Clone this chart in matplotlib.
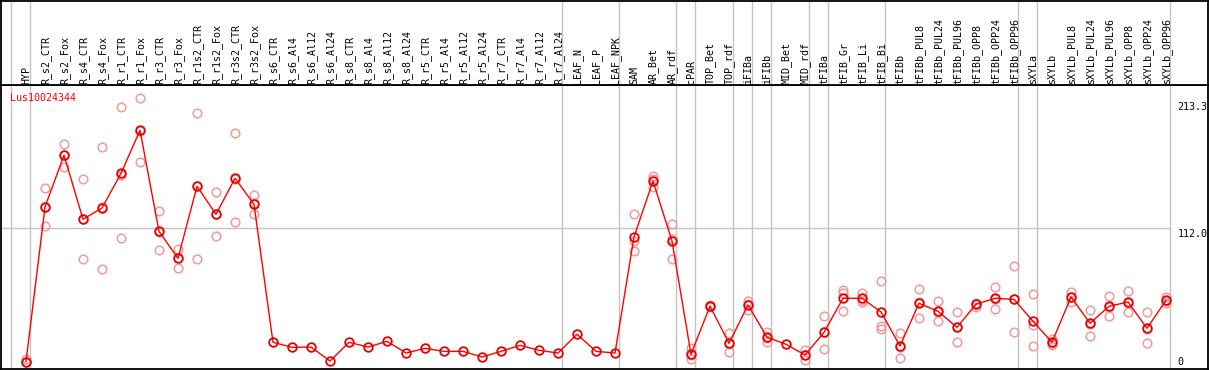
import matplotlib
matplotlib.use("Agg")
import matplotlib.pyplot as plt
from matplotlib.transforms import blended_transform_factory
import numpy as np

# ---------------- data ----------------
gene = "Lus10024344"

categories = [
    "HYP", "R_s2_CTR", "R_s2_Fox", "R_s4_CTR", "R_s4_Fox", "R_r1_CTR", "R_r1_Fox",
    "R_r3_CTR", "R_r3_Fox", "R_r1s2_CTR", "R_r1s2_Fox", "R_r3s2_CTR", "R_r3s2_Fox",
    "R_s6_CTR", "R_s6_Al4", "R_s6_Al12", "R_s6_Al24", "R_s8_CTR", "R_s8_Al4",
    "R_s8_Al12", "R_s8_Al24", "R_r5_CTR", "R_r5_Al4", "R_r5_Al12", "R_r5_Al24",
    "R_r7_CTR", "R_r7_Al4", "R_r7_Al12", "R_r7_Al24", "LEAF_N", "LEAF_P", "LEAF_NPK",
    "SAM", "AR_Bet", "AR_rdf", "cPAR", "TOP_Bet", "TOP_rdf", "iFIBa", "iFIBb",
    "MID_Bet", "MID_rdf", "tFIBa", "tFIB_Gr", "tFIB_Li", "tFIB_Bi", "tFIBb",
    "tFIBb_PUL8", "tFIBb_PUL24", "tFIBb_PUL96", "tFIBb_OPP8", "tFIBb_OPP24",
    "tFIBb_OPP96", "sXYLa", "sXYLb", "sXYLb_PUL8", "sXYLb_PUL24", "sXYLb_PUL96",
    "sXYLb_OPP8", "sXYLb_OPP24", "sXYLb_OPP96",
]

means = [
    0.3, 129.7, 173.0, 119.4, 128.8, 157.8, 193.8, 109.3, 86.7, 147.0, 123.5, 153.7, 131.9,
    16.5, 12.3, 12.5, 0.8, 16.5, 12.5, 17.3, 7.5, 11.4, 8.9, 8.9, 4.2,
    8.9, 13.9, 9.8, 7.5, 23.2, 8.9, 7.5,
    104.6, 151.4, 101.2, 6.4, 46.8, 15.6, 47.7, 20.7,
    14.8, 5.9, 24.8, 53.3, 53.3, 41.8, 13.4,
    49.1, 42.4, 29.0, 48.3, 53.3, 52.4,
    34.0, 16.5, 54.4, 32.4, 46.6, 50.2, 28.2, 51.6,
]

replicates = [
    [2.2, 0.0, 0.0],
    [145.5, 113.8, 130.0],
    [182.4, 162.9, 173.5],
    [153.0, 85.9, 119.3],
    [179.6, 77.5, 129.3],
    [213.0, 103.7, 156.7],
    [220.8, 167.0, 193.6],
    [126.0, 93.4, 108.5],
    [94.8, 78.4, 86.9],
    [208.0, 85.9, 147.1],
    [142.0, 105.1, 123.4],
    [191.3, 116.9, 152.9],
    [139.4, 123.5, 132.8],
    [], [], [], [], [], [], [], [], [], [], [], [], [], [], [], [],
    [], [], [],
    [123.5, 92.6, 101.5],
    [155.3, 146.1, 152.8],
    [115.2, 85.9, 102.5],
    [11.4, 2.2, 5.6],
    [47.5, 46.0, 46.9],
    [24.0, 8.1, 14.7],
    [51.3, 43.5, 48.3],
    [25.4, 17.0, 19.7],
    [],
    [9.8, 1.7, 6.2],
    [38.2, 10.9, 25.3],
    [60.2, 57.5, 42.7],
    [58.0, 50.4, 51.5],
    [67.8, 30.1, 27.6],
    [24.5, 3.3, 12.4],
    [60.8, 36.6, 50.0],
    [51.0, 34.0, 42.2],
    [41.6, 16.5, 29.0],
    [48.9, 46.3, 49.6],
    [62.7, 44.1, 53.0],
    [80.0, 24.8, 52.4],
    [56.9, 30.9, 13.1],
    [19.0, 14.2, 16.3],
    [58.6, 50.4, 54.2],
    [43.5, 21.5, 32.2],
    [55.2, 38.2, 46.4],
    [59.4, 41.6, 49.6],
    [41.6, 15.6, 27.4],
    [54.4, 49.1, 51.3],
]

# number of categories in each tissue group (separators drawn after each group)
group_sizes = [1, 28, 3, 3, 1, 2, 1, 1, 2, 1, 3, 7, 1, 7]

ytick_values = [213.3, 112.0, 0]
ytick_labels = ["213.3", "112.0", "0"]

# ---------------- layout ----------------
W, H = 1209, 370
fig = plt.figure(figsize=(W / 100, H / 100), dpi=100)
fig.patch.set_facecolor("white")

X0, DX = 26.0, 19.0          # pixel position of first category and spacing
Y0, YMAXPX, YMAX = 362.0, 107.0, 213.3


def px2x(px):
    return (px - X0) / DX


def py2v(py):
    return (Y0 - py) * YMAX / (Y0 - YMAXPX)


mono = "DejaVu Sans Mono"
fs = 7.2
grid_c = "#c4c4c4"

# plot area: px y 85..369
ax = fig.add_axes([1 / W, 1 / H, 1207 / W, 284 / H])
ax.set_xlim(px2x(1), px2x(1208))
ax.set_ylim(py2v(369), py2v(85))
ax.set_xticks([])
ax.set_yticks([])
for s in ax.spines.values():
    s.set_color("black")
    s.set_linewidth(1.3)

# header area: px y 0..85
hax = fig.add_axes([1 / W, 285 / H, 1207 / W, 84.5 / H])
hax.set_xlim(px2x(1), px2x(1208))
hax.set_ylim(85, 0)
hax.set_xticks([])
hax.set_yticks([])
for s in hax.spines.values():
    s.set_color("black")
    s.set_linewidth(1.3)

# group separators
ends = np.cumsum(group_sizes) - 1
sep_x = [-1 + 0.2] + [e + 0.226 for e in ends]
for sx in sep_x:
    ax.axvline(sx, color=grid_c, lw=1.0, zorder=0)
    hax.axvline(sx, color=grid_c, lw=1.0, zorder=0)

# horizontal grid at middle tick
ax.hlines(ytick_values[1], px2x(1), sep_x[-1], color=grid_c, lw=1.0, zorder=0)

# category labels
for i, c in enumerate(categories):
    hax.text(i + 0.02, 83.5, c, rotation=90, ha="center", va="bottom",
             fontsize=fs, family=mono, color="black")

# y labels on the right
tr = blended_transform_factory(fig.transFigure, ax.transData)
for v, lab in zip(ytick_values, ytick_labels):
    va = "top" if lab == "112.0" else "center"
    vv = v - 0.8 if va == "top" else v
    ax.text(1177.5 / W, vv, lab, transform=tr, ha="left", va=va,
            fontsize=fs, family=mono, color="black", clip_on=False)

# gene name
ax.text(px2x(9.5), py2v(98), gene, ha="left", va="center",
        fontsize=fs, family=mono, color="#ff0000")

xs = np.arange(len(categories))

rx, ry = [], []
for i, reps in enumerate(replicates):
    for r in reps:
        rx.append(i)
        ry.append(r)

ax.plot(rx, ry, ls="none", marker="o", ms=6.2, mfc="none",
        mec="#f09a9a", mew=1.1, zorder=2)
ax.plot(xs, means, color="#ff0000", lw=1.0, marker="o", ms=6.2, mfc="none",
        mec="#e80000", mew=1.3, zorder=3)

fig.savefig("out.png", dpi=100, facecolor="white")
